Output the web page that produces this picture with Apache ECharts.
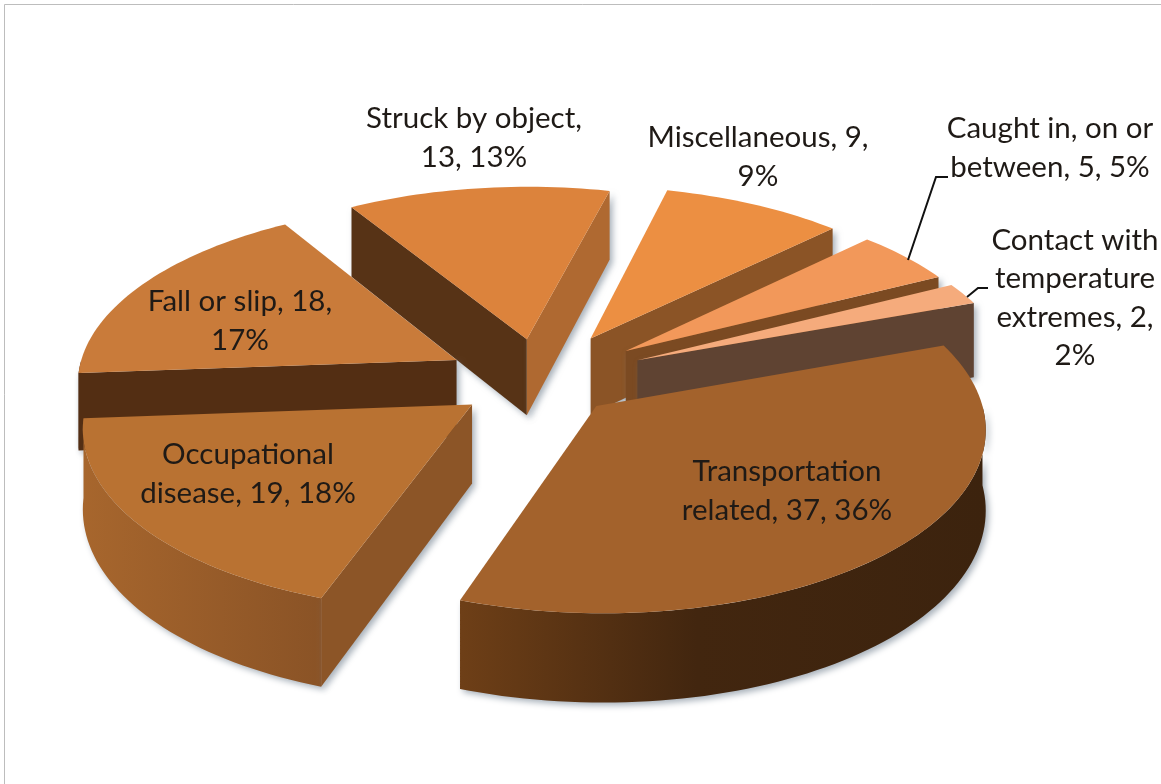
<!DOCTYPE html>
<html><head><meta charset="utf-8">
<style>html,body{margin:0;padding:0;background:#fff}#c{width:1161px;height:784px}</style>
<script src="https://cdn.jsdelivr.net/npm/echarts@6/dist/echarts.min.js"></script>
</head><body><div id="c"></div>
<script>
const categories = ['Transportation related','Occupational disease','Fall or slip','Struck by object','Miscellaneous','Caught in, on or between','Contact with temperature extremes'];
const values = [37,19,18,13,9,5,2];
const percents = [36,18,17,13,9,5,2];
const labelBreaks = [
  'Transportation\nrelated, {v}, {p}%',
  'Occupational\ndisease, {v}, {p}%',
  'Fall or slip, {v},\n{p}%',
  'Struck by object,\n{v}, {p}%',
  'Miscellaneous, {v},\n{p}%',
  'Caught in, on or\nbetween, {v}, {p}%',
  'Contact with\ntemperature\nextremes, {v},\n{p}%'
];
const topColors = ['#a3622c','#b97232','#c97b3a','#dc833c','#ec8f42','#f2985a','#f5ab7c'];
const startWallColors = ['#6e3f17','#8c5527','#532e13','#573316','#8b5426','#7b4a22','#5f4332'];
const endWallColors = ['#6e3f17','#8c5527','#532e13','#af6931','#8b5426','#7b4a22','#5f4332'];
const outerStops = [
  [[0,'#6e3f17'],[0.45,'#42260f'],[1,'#3c230e']],
  [[0,'#a7662d'],[1,'#8a5326']],
  [[0,'#532e13'],[1,'#532e13']],[[0,'#573316'],[1,'#573316']],[[0,'#8b5426'],[1,'#8b5426']],
  [[0,'#7b4a22'],[1,'#7b4a22']],[[0,'#5f4332'],[1,'#5f4332']]
];
const explode = [0.205,0.222,0.25,0.237,0.275,0.283,0.283];
const zOrder = [60,50,40,10,20,30,35];
const labelCenters = [[787,491],[248,474],[240,321],[474,138],[758,157],[1050,148],[1075,298]];
const leaders = [null,null,null,null,null,[[908,260],[936,177],[948,177]],[[967,297],[978,288],[988,288]]];
const view = {cx:540,cy:380,R:380,S:178,p:0.111,h:78,start:70};

const total = values.reduce((a,b)=>a+b,0);
function proj(u,v,down){
  const w = 1 + view.p*v;
  return [view.cx + view.R*u/w, view.cy - view.S*v/w + (down? view.h/w : 0)];
}
function renderSlice(params, api){
  const i = params.dataIndex;
  let before = 0; for(let k=0;k<i;k++) before += values[k];
  const a0 = view.start + before/total*360;
  const a1 = a0 + api.value(0)/total*360;
  const mid = (a0+a1)/2*Math.PI/180;
  const ox = explode[i]*Math.sin(mid), oy = explode[i]*Math.cos(mid);
  const pt = (deg,rad,down)=>{
    const t = deg*Math.PI/180;
    return proj(ox+rad*Math.sin(t), oy+rad*Math.cos(t), down);
  };
  const z = zOrder[i];
  const kids = [];
  const shadow = {shadowBlur:6,shadowColor:'rgba(110,125,140,0.6)',shadowOffsetX:3,shadowOffsetY:3};
  const poly = (pts,fill,zz,sh)=>kids.push({type:'polygon',z2:zz,shape:{points:pts},
    style:Object.assign({fill:fill,stroke:null},sh?shadow:{})});
  const area = pts=>{let s=0;pts.forEach((p,j)=>{const q=pts[(j+1)%pts.length];s+=p[0]*q[1]-q[0]*p[1];});return s;};
  // outer curved wall, visible front half only
  const from = Math.max(a0,90), to = Math.min(a1,270);
  if(to>from){
    const topEdge=[],botEdge=[];
    for(let d=from;d<=to+0.001;d+=1.5){topEdge.push(pt(d,1,false));botEdge.unshift(pt(d,1,true));}
    topEdge.push(pt(to,1,false));botEdge.unshift(pt(to,1,true));
    poly(topEdge.concat(botEdge),new echarts.graphic.LinearGradient(0,0,1,0,
      outerStops[i].map(s=>({offset:s[0],color:s[1]}))),z,true);
  }
  // radial walls, culled when facing away from the viewer
  const wallA = [pt(a0,0,false),pt(a0,1,false),pt(a0,1,true),pt(a0,0,true)];
  const wallB = [pt(a1,1,false),pt(a1,0,false),pt(a1,0,true),pt(a1,1,true)];
  if(area(wallA)<0) poly(wallA,startWallColors[i],z+1,true);
  if(area(wallB)<0) poly(wallB,endWallColors[i],z+1,true);
  // top face
  const top=[pt(a0,0,false)];
  for(let d=a0;d<=a1+0.001;d+=1.5) top.push(pt(d,1,false));
  top.push(pt(a1,1,false));
  poly(top,topColors[i],z+2,false);
  // label
  const txt = labelBreaks[i].replace('{v}',api.value(0)).replace('{p}',percents[i]);
  kids.push({type:'text',z2:100,style:{x:labelCenters[i][0],y:labelCenters[i][1],text:txt,
    align:'center',verticalAlign:'middle',fontFamily:'Lato',fontSize:29.5,lineHeight:38.5,fill:'#1f1a16'}});
  if(leaders[i]) kids.push({type:'polyline',z2:90,shape:{points:leaders[i]},style:{stroke:'#111',lineWidth:2,fill:null}});
  return {type:'group',children:kids};
}
const chart = echarts.init(document.getElementById('c'),null,{renderer:'canvas'});
chart.setOption({
  animation:false,
  backgroundColor:'#fff',
  graphic:[{type:'polyline',shape:{points:[[4.5,784],[4.5,4.5],[1161,4.5]]},style:{stroke:'#bdbdbd',lineWidth:1,fill:null}}],
  series:[{type:'custom',coordinateSystem:'none',renderItem:renderSlice,
    data:values.map((v,i)=>({name:categories[i],value:[v]}))}]
});
</script></body></html>
